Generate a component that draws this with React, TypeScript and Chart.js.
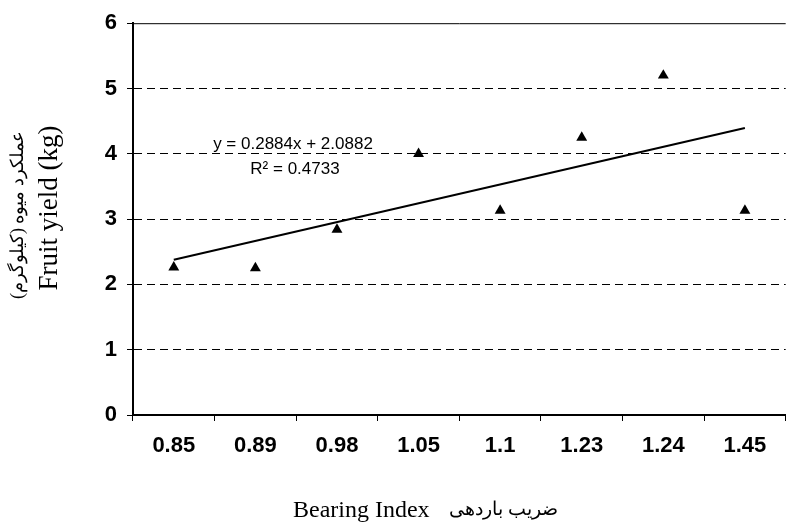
import React, { useEffect, useRef } from "react";
import { Chart, registerables } from "chart.js";

Chart.register(...registerables);

const categories = ["0.85", "0.89", "0.98", "1.05", "1.1", "1.23", "1.24", "1.45"];
const fruitYield = [2.26, 2.25, 2.84, 4.0, 3.13, 4.25, 5.2, 3.13];
const trendEndpoints = [2.3766, 4.3954];
const yTicks = [0, 1, 2, 3, 4, 5, 6];
const equationText = "y = 0.2884x + 2.0882";
const r2Text = "R\u00B2 = 0.4733";
const yTitleFa = "عملکرد میوه (کیلوگرم)";
const yTitleEn = "Fruit yield (kg)";
const xTitleEn = "Bearing Index";
const xTitleFa = "ضریب باردهی";

const trendData = categories.map((_, i) =>
  i === 0 ? trendEndpoints[0] : i === categories.length - 1 ? trendEndpoints[1] : null
);

const sansFont = '"Liberation Sans", Arial, sans-serif';
const serifFont = '"Liberation Serif", "Times New Roman", serif';

const overlayPlugin = {
  id: "overlay",
  afterDraw(chart: any) {
    const { ctx, chartArea } = chart;
    ctx.save();
    // top border
    ctx.strokeStyle = "#000";
    ctx.lineWidth = 1;
    ctx.setLineDash([]);
    ctx.beginPath();
    ctx.moveTo(chartArea.left, chartArea.top + 0.5);
    ctx.lineTo(chartArea.right, chartArea.top + 0.5);
    ctx.stroke();

    // equation
    ctx.fillStyle = "#000";
    ctx.font = `17px ${sansFont}`;
    ctx.textAlign = "center";
    ctx.textBaseline = "alphabetic";
    ctx.fillText(equationText, 293, 149);
    ctx.fillText(r2Text, 295, 174);

    // y title
    ctx.save();
    ctx.translate(18, 215);
    ctx.rotate(-Math.PI / 2);
    ctx.font = `18px ${serifFont}`;
    ctx.textAlign = "center";
    ctx.textBaseline = "middle";
    (ctx as any).direction = "rtl";
    ctx.fillText(yTitleFa, 0, 0);
    ctx.restore();

    ctx.save();
    ctx.translate(50, 208);
    ctx.rotate(-Math.PI / 2);
    ctx.font = `27px ${serifFont}`;
    ctx.textAlign = "center";
    ctx.textBaseline = "middle";
    ctx.fillText(yTitleEn, 0, 0);
    ctx.restore();

    // x title
    ctx.font = `24px ${serifFont}`;
    ctx.textAlign = "left";
    ctx.textBaseline = "alphabetic";
    ctx.fillText(xTitleEn, 293, 517);
    (ctx as any).direction = "rtl";
    ctx.textAlign = "right";
    ctx.font = `19px ${serifFont}`;
    ctx.fillText(xTitleFa, 558, 515);
    ctx.restore();
  },
};

export default function App() {
  const canvasRef = useRef<HTMLCanvasElement | null>(null);

  useEffect(() => {
    document.body.style.margin = "0";
    const canvas = canvasRef.current;
    if (!canvas) return;
    const chart = new Chart(canvas, {
      type: "line",
      data: {
        labels: categories,
        datasets: [
          {
            label: "Fruit yield",
            data: fruitYield,
            showLine: false,
            pointStyle: "triangle",
            pointRadius: 6.3,
            pointHoverRadius: 6.3,
            pointBackgroundColor: "#000",
            pointBorderColor: "#000",
            pointBorderWidth: 0,
          },
          {
            label: "Trend",
            data: trendData,
            spanGaps: true,
            borderColor: "#000",
            borderWidth: 2,
            pointRadius: 0,
            fill: false,
          },
        ],
      },
      options: {
        animation: false,
        responsive: true,
        maintainAspectRatio: false,
        layout: { padding: { top: 20, right: 0, left: 0, bottom: 0 } },
        plugins: {
          legend: { display: false },
          tooltip: { enabled: false },
          title: { display: false },
        },
        scales: {
          x: {
            type: "category",
            offset: true,
            grid: {
              offset: true,
              drawOnChartArea: false,
              drawTicks: true,
              tickLength: 6,
              tickColor: "#000",
              tickWidth: 1,
              color: "#000",
            },
            border: { display: true, color: "#000", width: 2 },
            ticks: {
              color: "#000",
              padding: 12,
              maxRotation: 0,
              font: { family: sansFont, size: 22, weight: "bold" },
            },
            afterFit(scale: any) {
              scale.height = 112;
            },
          },
          y: {
            min: 0,
            max: 6,
            afterBuildTicks(scale: any) {
              scale.ticks = yTicks.map((v) => ({ value: v }));
            },
            grid: {
              color: (c: any) =>
                c.tick && (c.tick.value === 0 || c.tick.value === 6) ? "rgba(0,0,0,0)" : "#000",
              lineWidth: 1,
              drawTicks: true,
              tickLength: 6,
              tickColor: "#000",
              tickBorderDash: [],
            },
            border: { display: true, color: "#000", width: 2, dash: [8, 5] },
            ticks: {
              color: "#000",
              padding: 10,
              font: { family: sansFont, size: 22, weight: "bold" },
            },
            afterFit(scale: any) {
              scale.width = 133;
            },
          },
        },
      },
      plugins: [overlayPlugin],
    });
    return () => chart.destroy();
  }, []);

  return (
    <div
      style={{
        position: "absolute",
        left: 0,
        top: 0,
        width: 786,
        height: 527,
        overflow: "hidden",
        background: "#fff",
      }}
    >
      <div style={{ position: "relative", width: 792, height: 527 }}>
        <canvas ref={canvasRef} />
      </div>
    </div>
  );
}
